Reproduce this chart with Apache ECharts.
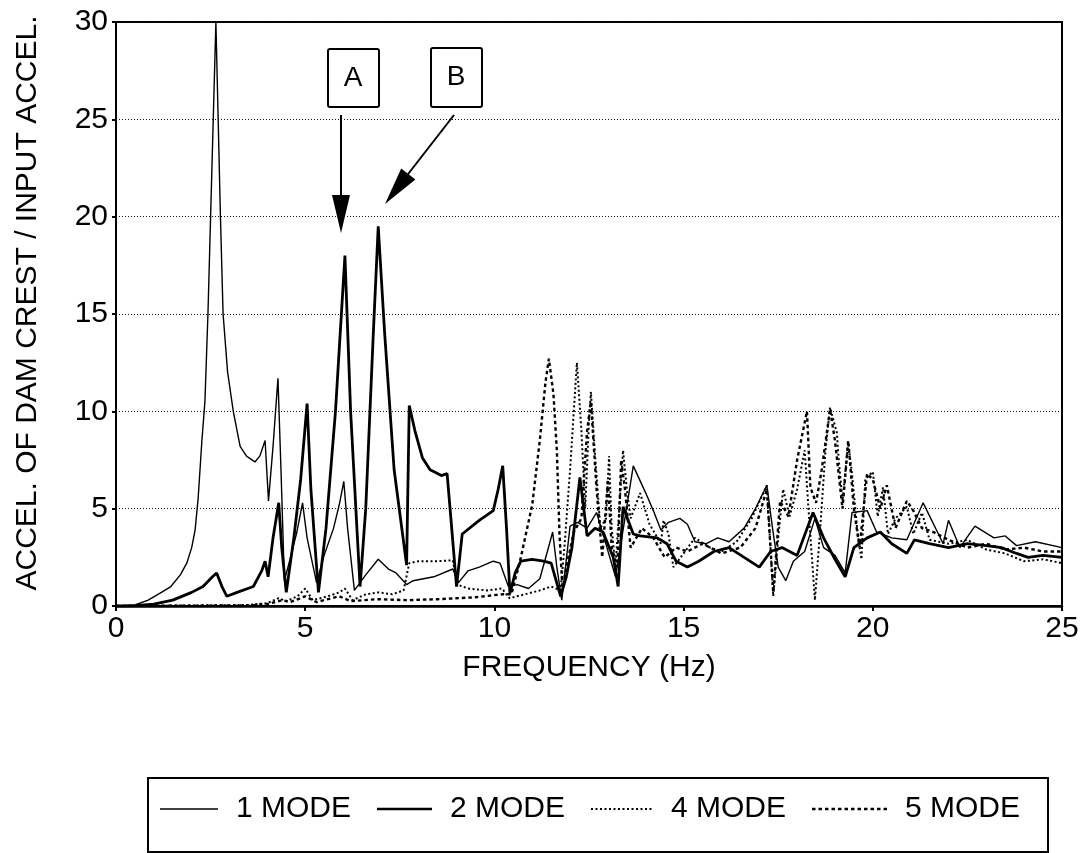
<!DOCTYPE html>
<html>
<head>
<meta charset="utf-8">
<script src="https://cdn.jsdelivr.net/npm/echarts@6/dist/echarts.min.js"></script>
<style>
html,body{margin:0;padding:0;background:#fff;}
#c{width:1087px;height:853px;}
</style>
</head>
<body>
<div id="c"></div>
<script>
// ---- data (frequency Hz, accel ratio) ----
const xTicks = [0, 5, 10, 15, 20, 25];
const yTicks = [0, 5, 10, 15, 20, 25, 30];
const seriesNames = ['1 MODE', '2 MODE', '4 MODE', '5 MODE'];

const mode1 = [[0,0],[0.5,0.05],[0.85,0.3],[1.2,0.7],[1.45,1.0],[1.7,1.6],[1.87,2.2],[2.0,3.0],[2.09,3.9],[2.17,5.5],[2.27,8.5],[2.35,10.5],[2.43,15],[2.5,20],[2.57,25],[2.64,30],[2.7,25],[2.76,20],[2.83,15],[2.95,12],[3.1,10],[3.28,8.2],[3.45,7.7],[3.67,7.4],[3.8,7.7],[3.94,8.5],[4.03,5.4],[4.15,8.2],[4.28,11.7],[4.36,7],[4.45,1.3],[4.6,2.4],[4.78,3.8],[4.93,5.3],[5.05,3.5],[5.3,1.2],[5.5,2.6],[5.75,4.0],[5.9,5.2],[6.02,6.4],[6.12,4.0],[6.3,0.8],[6.6,1.6],[6.93,2.4],[7.2,1.9],[7.4,1.7],[7.68,1.1],[7.85,1.3],[8.4,1.5],[8.9,1.9],[9.05,1.2],[9.3,1.8],[9.6,2.0],[9.97,2.3],[10.15,2.2],[10.37,1.0],[10.6,1.1],[10.9,0.9],[11.2,1.4],[11.4,2.8],[11.54,3.8],[11.65,2.0],[11.78,0.3],[12.0,4.1],[12.2,4.3],[12.45,4.0],[12.7,4.8],[12.9,3.5],[13.2,1.5],[13.45,4.5],[13.67,7.2],[14.0,5.8],[14.2,4.9],[14.4,3.9],[14.6,4.3],[14.9,4.5],[15.1,4.2],[15.3,3.3],[15.6,3.2],[15.9,3.5],[16.2,3.3],[16.6,4.0],[16.9,5.0],[17.2,6.2],[17.35,4.0],[17.5,2.0],[17.7,1.3],[17.9,2.3],[18.2,2.8],[18.47,4.5],[18.7,3.0],[19.0,2.6],[19.27,1.7],[19.45,4.8],[19.85,4.9],[20.1,3.8],[20.5,3.5],[20.9,3.4],[21.33,5.3],[21.86,3.2],[22.0,4.4],[22.3,3.0],[22.7,4.1],[23.2,3.5],[23.5,3.6],[23.8,3.1],[24.3,3.3],[25,3.0]];

const mode2 = [[0,0],[0.5,0.02],[1.0,0.1],[1.5,0.3],[2.0,0.7],[2.3,1.0],[2.55,1.5],[2.66,1.7],[2.8,1.0],[2.93,0.5],[3.2,0.7],[3.63,1.0],[3.85,1.8],[3.94,2.3],[4.02,1.5],[4.15,3.5],[4.3,5.3],[4.38,3.0],[4.5,0.7],[4.7,3.5],[4.88,6.5],[5.05,10.4],[5.15,6],[5.35,0.7],[5.55,4],[5.8,10],[6.05,18],[6.2,10],[6.45,1.0],[6.6,5],[6.8,14],[6.93,19.5],[7.1,14],[7.35,7],[7.68,2.1],[7.75,10.3],[7.9,9.0],[8.1,7.6],[8.3,7.0],[8.6,6.7],[8.75,6.8],[8.85,4.5],[9.0,1.0],[9.15,3.7],[9.6,4.4],[9.97,4.9],[10.1,6.0],[10.22,7.2],[10.32,4],[10.41,0.65],[10.55,1.7],[10.7,2.3],[11.0,2.4],[11.3,2.3],[11.5,2.2],[11.75,0.5],[11.9,1.5],[12.05,3],[12.26,6.6],[12.45,3.6],[12.66,4.0],[12.87,3.8],[13.14,2.5],[13.27,1.0],[13.4,5.1],[13.67,3.7],[13.85,3.6],[14.3,3.5],[14.56,3.2],[14.8,2.3],[15.1,2.0],[15.4,2.3],[15.8,2.8],[16.2,3.0],[16.6,2.5],[17.0,2.0],[17.3,2.8],[17.6,3.0],[18.0,2.6],[18.42,4.8],[18.7,3.5],[19.0,2.4],[19.27,1.5],[19.5,3.0],[19.85,3.5],[20.2,3.8],[20.5,3.2],[20.9,2.7],[21.1,3.4],[21.5,3.2],[22.0,3.0],[22.5,3.2],[23.0,3.1],[23.4,3.0],[23.8,2.7],[24.1,2.5],[24.5,2.6],[25,2.5]];

const mode4 = [[0,0],[3.5,0.05],[4.0,0.15],[4.3,0.4],[4.5,0.25],[4.8,0.5],[5.0,0.9],[5.2,0.3],[5.6,0.5],[5.9,0.7],[6.05,0.9],[6.25,0.3],[6.6,0.6],[6.93,0.7],[7.3,0.6],[7.6,0.8],[7.75,2.2],[8.0,2.3],[8.5,2.3],[8.9,2.35],[9.02,1.1],[9.3,0.9],[9.8,0.8],[10.2,0.9],[10.4,0.4],[10.8,0.6],[11.2,0.8],[11.5,1.0],[11.75,0.8],[11.85,3.0],[12.0,7.0],[12.18,12.5],[12.3,9.0],[12.4,5.0],[12.5,9.5],[12.55,11.0],[12.65,8.0],[12.8,4.0],[12.95,4.5],[13.03,7.7],[13.1,4.0],[13.2,2.0],[13.3,5.0],[13.4,8.0],[13.5,6.0],[13.6,4.5],[13.85,5.8],[14.1,4.2],[14.4,3.2],[14.47,4.4],[14.6,3.7],[14.73,2.0],[15.0,2.7],[15.3,3.5],[15.7,3.0],[16.0,2.8],[16.4,3.3],[16.8,4.5],[17.2,6.2],[17.37,0.5],[17.5,3.5],[17.63,6.0],[17.8,4.6],[18.0,6.0],[18.2,8.0],[18.3,5.0],[18.47,0.3],[18.6,3.7],[18.75,8.0],[18.87,10.2],[19.05,8.9],[19.1,7.5],[19.2,5.4],[19.35,8.4],[19.45,6.8],[19.6,3.7],[19.7,2.4],[19.8,6.5],[20.0,6.9],[20.13,4.6],[20.27,6.1],[20.4,3.7],[20.6,4.5],[20.9,5.1],[21.07,3.7],[21.3,4.8],[21.5,3.4],[22.0,3.2],[22.5,3.4],[23.0,2.9],[23.5,2.7],[24.0,2.3],[24.5,2.4],[25,2.2]];

const mode5 = [[0,0],[3.5,0.03],[4.0,0.1],[4.4,0.3],[4.6,0.2],[5.0,0.5],[5.3,0.2],[5.9,0.5],[6.2,0.25],[6.9,0.35],[7.7,0.3],[8.5,0.35],[9.5,0.45],[10.2,0.6],[10.45,0.6],[10.7,2.5],[11.0,5.2],[11.2,8.5],[11.35,11.5],[11.44,12.7],[11.56,10.9],[11.65,8.0],[11.72,3.7],[11.8,0.8],[11.9,2.0],[12.1,3.8],[12.3,4.5],[12.45,9.0],[12.55,10.5],[12.7,6],[12.85,2.5],[13.0,6.5],[13.1,3.0],[13.25,2.0],[13.35,7.5],[13.45,6.0],[13.6,3.0],[13.9,4.0],[14.2,3.5],[14.5,2.5],[14.8,3.0],[15.1,2.8],[15.5,3.2],[16.0,2.7],[16.5,3.0],[16.9,4.0],[17.2,6.0],[17.37,0.7],[17.55,5.4],[17.77,4.6],[18.0,7.5],[18.26,10.0],[18.35,6.1],[18.5,5.3],[18.65,7],[18.87,10.1],[19.0,8.5],[19.2,5.0],[19.35,8.5],[19.5,5.0],[19.65,3.0],[19.85,6.8],[20.0,6.5],[20.2,5.0],[20.37,6.2],[20.6,4.0],[20.9,5.4],[21.07,4.9],[21.3,4.0],[21.6,3.8],[22.0,3.4],[22.5,3.0],[23.0,3.2],[23.5,2.9],[24.0,3.0],[24.5,2.8],[25,2.8]];

const chart = echarts.init(document.getElementById('c'), null, {renderer: 'canvas'});
const FONT = '"Liberation Sans", Arial, sans-serif';

const lineStyles = [
  {color: '#000', width: 1.4, type: 'solid'},
  {color: '#000', width: 2.8, type: 'solid'},
  {color: '#000', width: 2.0, type: [2, 2.5]},
  {color: '#000', width: 2.4, type: [3.5, 3]}
];
const seriesData = [mode1, mode2, mode4, mode5];

// manual legend layout (line sample start, width, text start)
const legendItems = [
  {lx: 160, lw: 58, tx: 236},
  {lx: 377, lw: 55, tx: 450},
  {lx: 591, lw: 62, tx: 671},
  {lx: 812, lw: 75, tx: 905}
];
const legendY = 809;
const legendGraphics = [];
legendItems.forEach((it, i) => {
  const ls = lineStyles[i];
  legendGraphics.push({type: 'line', shape: {x1: it.lx, y1: legendY, x2: it.lx + it.lw, y2: legendY},
    style: {stroke: '#000', lineWidth: Math.min(ls.width, 2.4), lineDash: ls.type === 'solid' ? null : ls.type}});
  legendGraphics.push({type: 'text', x: it.tx, y: legendY,
    style: {text: seriesNames[i], font: '30px ' + FONT, fill: '#000', align: 'left', verticalAlign: 'middle'}});
});

const option = {
  animation: false,
  backgroundColor: '#fff',
  textStyle: {fontFamily: FONT, color: '#000'},
  grid: {left: 116, right: 25, top: 22, bottom: 247, show: true, borderColor: '#000', borderWidth: 2},
  xAxis: {
    type: 'value', min: 0, max: 25, interval: 5,
    axisLine: {show: true, lineStyle: {color: '#000', width: 2.5}},
    axisTick: {show: true, inside: false, length: 5, lineStyle: {color: '#000', width: 2}},
    axisLabel: {fontSize: 30, color: '#000', fontFamily: FONT, margin: 8,
      formatter: v => xTicks.includes(v) ? String(v) : ''},
    splitLine: {show: false}
  },
  yAxis: {
    type: 'value', min: 0, max: 30, interval: 5,
    axisLine: {show: true, lineStyle: {color: '#000', width: 2}},
    axisTick: {show: true, inside: false, length: 4, lineStyle: {color: '#000', width: 2}},
    axisLabel: {fontSize: 30, color: '#000', fontFamily: FONT, margin: 8,
      formatter: v => yTicks.includes(v) ? String(v) : ''},
    splitLine: {show: true, lineStyle: {color: '#111', width: 1.2, type: [1, 2]}}
  },
  series: seriesData.map((d, i) => ({
    name: seriesNames[i], type: 'line', data: d, symbol: 'none',
    lineStyle: lineStyles[i], itemStyle: {color: '#000'}, z: [3, 4, 2, 2][i]
  })),
  graphic: [
    {type: 'text', x: 28, y: 303, rotation: Math.PI / 2,
      style: {text: 'ACCEL. OF DAM CREST / INPUT ACCEL.', font: '30px ' + FONT, fill: '#000', align: 'center', verticalAlign: 'middle'}},
    {type: 'text', x: 589, y: 668,
      style: {text: 'FREQUENCY (Hz)', font: '30px ' + FONT, fill: '#000', align: 'center', verticalAlign: 'middle'}},
    {type: 'rect', shape: {x: 328, y: 49, width: 51, height: 58, r: 2}, style: {fill: '#fff', stroke: '#000', lineWidth: 2}},
    {type: 'text', x: 353, y: 78, style: {text: 'A', font: '28px ' + FONT, fill: '#000', align: 'center', verticalAlign: 'middle'}},
    {type: 'line', shape: {x1: 341, y1: 115, x2: 341, y2: 200}, style: {stroke: '#000', lineWidth: 2}},
    {type: 'polygon', shape: {points: [[332, 195], [350, 195], [341, 233]]}, style: {fill: '#000'}},
    {type: 'rect', shape: {x: 431, y: 48, width: 51, height: 59, r: 2}, style: {fill: '#fff', stroke: '#000', lineWidth: 2}},
    {type: 'text', x: 456, y: 77, style: {text: 'B', font: '28px ' + FONT, fill: '#000', align: 'center', verticalAlign: 'middle'}},
    {type: 'line', shape: {x1: 454, y1: 115, x2: 405, y2: 178}, style: {stroke: '#000', lineWidth: 2}},
    {type: 'polygon', shape: {points: [[415.4, 179.5], [401.2, 168.5], [385, 204]]}, style: {fill: '#000'}},
    {type: 'rect', shape: {x: 148, y: 778, width: 900, height: 74}, style: {fill: 'none', stroke: '#000', lineWidth: 2}}
  ].concat(legendGraphics)
};
chart.setOption(option);
</script>
</body>
</html>
